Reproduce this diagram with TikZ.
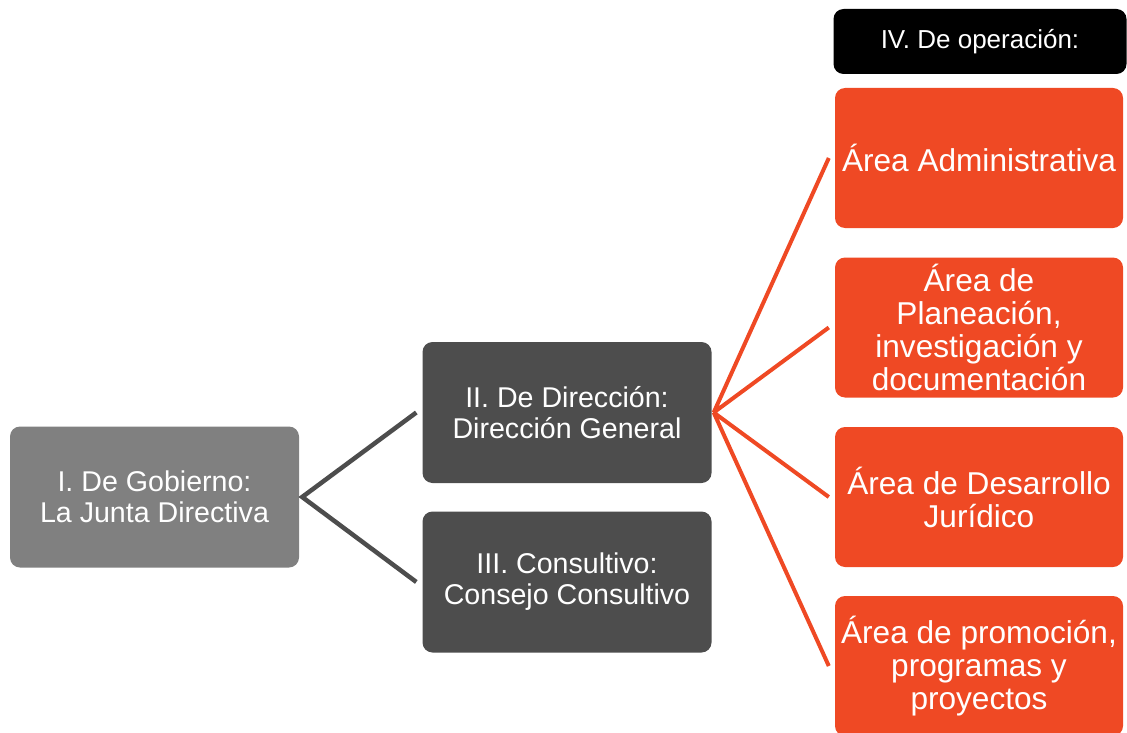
\documentclass[tikz,border=0pt]{standalone}
\usepackage{fontspec}
\setmainfont{Liberation Sans}
\usepackage{tikz}
\usetikzlibrary{calc}
\definecolor{midgray}{RGB}{128,128,128}
\definecolor{darkgray}{RGB}{77,77,77}
\definecolor{myorange}{RGB}{239,73,36}
\newcommand{\widthbox}{289pt}
\newcommand{\heightbox}{141pt}
\tikzset{
    common/.style={draw=none, rectangle, rounded corners=10pt, text=white, align=center, inner sep=0pt,
        minimum width=\widthbox, minimum height=\heightbox},
    level/.style={common, font=\fontsize{28.6}{31}\selectfont},
    gobierno/.style={level, fill=midgray},
    direccion/.style={level, fill=darkgray},
    area/.style={common, fill=myorange, minimum width=288pt, minimum height=140pt, font=\fontsize{31.6}{33}\selectfont},
    header/.style={common, fill=black, minimum width=293pt, minimum height=65pt, font=\fontsize{26}{28}\selectfont},
    gray-link/.style={darkgray, line width=4.5pt},
    orange-link/.style={myorange, line width=4pt}
}
\begin{document}
\begin{tikzpicture}[x=1pt, y=-1pt]
    \useasboundingbox (0,0) rectangle (1127,733);

    \node[gobierno] (gob) at (154.5,497) {I. De Gobierno:\\La Junta Directiva};
    \node[direccion] (dir) at (567,412.5) {II. De Dirección:\\Dirección General};
    \node[direccion] (con) at (567,582) {III. Consultivo:\\Consejo Consultivo};

    \node[header] (ope) at (980,41.5) {IV. De operación:};
    \node[area] (adm) at (979,158) {Área Administrativa};
    \node[area] (pla) at (979,327.5) {Área de\\Planeación,\\investigación y\\documentación};
    \node[area] (jur) at (979,497) {Área de Desarrollo\\Jurídico};
    \node[area] (pro) at (979,666) {Área de promoción,\\programas y\\proyectos};

    \draw[gray-link] ([xshift=-6pt]dir.west) -- ([xshift=3pt]gob.east) -- ([xshift=-6pt]con.west);
    \draw[orange-link] ([xshift=2pt]dir.east) -- ([xshift=-6pt]adm.west)
        ([xshift=2pt]dir.east) -- ([xshift=-6pt]pla.west)
        ([xshift=2pt]dir.east) -- ([xshift=-6pt]jur.west)
        ([xshift=2pt]dir.east) -- ([xshift=-6pt]pro.west);
\end{tikzpicture}
\end{document}
